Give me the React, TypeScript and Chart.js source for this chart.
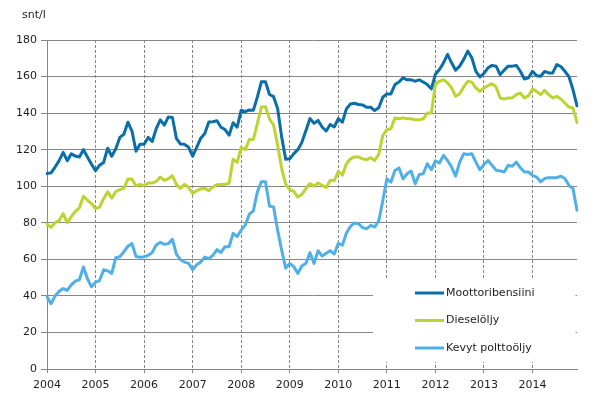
import React, { useEffect, useRef } from "react";
import { Chart, registerables } from "chart.js";

Chart.register(...registerables);

const years = ["2004", "2005", "2006", "2007", "2008", "2009", "2010", "2011", "2012", "2013", "2014"];
const months = ["01", "02", "03", "04", "05", "06", "07", "08", "09", "10", "11", "12"];
const seriesNames = ["Moottoribensiini", "Dieselöljy", "Kevyt polttoöljy"];
const yTicks = [0, 20, 40, 60, 80, 100, 120, 140, 160, 180];
const unitLabel = "snt/l";

const moottoribensiini = [
  107, 107.3, 110.5, 114, 118.5, 114, 117.7, 116.5, 116, 120, 116, 112,
  108.5, 111.5, 113, 120.8, 116.4, 120.5, 126.7, 128.4, 135, 130.2, 119.2, 123,
  122.9, 126.7, 124.5, 131.5, 136.3, 133.4, 137.9, 137.6, 126, 123.1, 122.9, 121.3,
  116.4, 121.3, 126.3, 128.8, 135.2, 135.3, 135.8, 132.3, 131, 127.9, 134.7, 132.3,
  141.6, 140.8, 141.7, 141.5, 148.9, 157.2, 157.2, 150.2, 149, 142.5, 127, 114.8,
  115, 117.8, 120, 124, 130.5, 137, 134.5, 136, 132.4, 130.2, 133.8, 132.4,
  137, 135, 142.3, 145, 145.4, 144.7, 144.5, 143.2, 143.2, 141.4, 142.9, 148.7,
  150.5, 150.5, 155.6, 157, 159.3, 158.2, 158.2, 157.5, 158.2, 157, 155.6, 153.3,
  161.3, 163.9, 167.5, 172.1, 167.5, 163.5, 165.7, 169.4, 173.9, 170.3, 162.9, 159.8,
  161.7, 164.8, 166.1, 165.7, 161.1, 163.5, 165.7, 165.7, 166.1, 162.9, 158.7, 159.3,
  162.9, 160.5, 160.2, 162.8, 162, 162, 166.5, 165.5, 162.9, 160, 152.8, 144,
];

const dieseloljy = [
  79.3, 77.5, 80, 81.3, 85, 80, 83.4, 86.2, 88.2, 94.5, 92.3, 90.5,
  87.8, 88.6, 93.2, 96.9, 93.5, 97, 98.2, 98.8, 104, 103.8, 100.2, 101,
  100.4, 101.7, 101.7, 102.6, 105, 103.2, 104.1, 105.7, 100.9, 98.8, 101, 99.3,
  96, 97.6, 98.6, 98.8, 97.6, 99.6, 100.8, 101, 101, 101.6, 114.8, 113,
  121.3, 120, 125.6, 125.6, 134.3, 143.4, 143.5, 136.7, 133.5, 122.5, 109.7, 101,
  98.2, 97.2, 94.1, 95.6, 98.7, 101.5, 100, 101.8, 100.5, 99.3, 103.3, 103,
  108.2, 106, 112.3, 115, 116, 116, 115, 114.5, 115.6, 114.1, 117.4, 127.8,
  130.9, 131.4, 137.4, 136.9, 137.4, 136.9, 136.9, 136.3, 136.3, 136.9, 140, 140,
  155.7, 157.4, 158.3, 156.5, 153.8, 149.2, 150.6, 154.3, 157.4, 156.9, 153.8, 151.9,
  153.8, 155, 156.1, 154.3, 148.3, 147.7, 148.3, 148.3, 150.1, 151, 148.3, 149.5,
  153.2, 151.9, 150.1, 152.5, 150.1, 148.3, 149.2, 147.7, 145.5, 143.3, 142.8, 134.9,
];

const kevytPolttoolj = [
  39.5, 35.7, 40, 42.5, 44, 43, 46, 48.1, 48.8, 55.8, 49.4, 45,
  47.5, 48.4, 54.3, 53.7, 52.3, 60.9, 61.4, 64.1, 67.2, 68.6, 61.6, 61.2,
  61.4, 62.2, 63.7, 67.9, 69.3, 68.2, 68.6, 71, 62.7, 59.8, 58.5, 57.8,
  54.3, 57, 58.5, 61.2, 60.4, 62.2, 65.3, 63.8, 66.9, 66.9, 74.2, 72.5,
  76, 78.7, 84.7, 86.5, 97, 102.5, 102.5, 89, 88.7, 76, 65, 55.2,
  57.7, 56, 52.3, 56.4, 57.8, 63.6, 57.8, 64.7, 61.8, 63.3, 64.7, 62.9,
  68.8, 67.7, 74.4, 78, 79.9, 79.5, 77.3, 76.8, 78.6, 77.7, 81, 92.2,
  104, 102.2, 108.6, 110, 104, 106.8, 108.3, 101.3, 106.4, 106.8, 112.3, 109,
  113.9, 112.7, 116.9, 114.1, 110.5, 105.5, 113.2, 117.8, 117.4, 117.8, 113.2, 109,
  111.9, 114.1, 111.4, 108.7, 108.4, 107.8, 111.4, 110.9, 113.2, 110.1, 107.8, 107.8,
  106, 105, 102.4, 104.2, 104.7, 104.7, 104.7, 105.5, 104.2, 100.5, 98.7, 86.9,
];

const colors = ["#0a6ea8", "#bcd432", "#4fafe6"];
const gridColor = "#868686";
const textColor = "#1e1e1e";
const FONT = "'DejaVu Sans', Verdana, sans-serif";

const categories: string[] = [];
years.forEach((y) => months.forEach((m) => categories.push(`${y}-${m}`)));

const overlayPlugin = {
  id: "overlay",
  afterDatasetsDraw(chart: any) {
    const { ctx, chartArea } = chart;
    const ds = chart.data.datasets;
    ctx.save();
    // legend box (white) inside plot area
    const bx = chartArea.left + 326;
    const by = chartArea.top + 239;
    const bw = chartArea.right - 1.5 - bx;
    const bh = 83;
    ctx.fillStyle = "#ffffff";
    ctx.fillRect(bx, by, bw, bh);
    const lx = chartArea.left + 368;
    const rowY = [chartArea.top + 253, chartArea.top + 280.5, chartArea.top + 308];
    ctx.font = `11px ${FONT}`;
    ctx.textBaseline = "middle";
    ctx.textAlign = "left";
    ds.forEach((d: any, i: number) => {
      ctx.strokeStyle = d.borderColor;
      ctx.lineWidth = 3;
      ctx.beginPath();
      ctx.moveTo(lx, rowY[i]);
      ctx.lineTo(lx + 29, rowY[i]);
      ctx.stroke();
      ctx.fillStyle = textColor;
      ctx.fillText(d.label, lx + 31, rowY[i]);
    });
    // unit label
    ctx.fillStyle = textColor;
    ctx.font = `11px ${FONT}`;
    ctx.textAlign = "left";
    ctx.fillText(unitLabel, chartArea.left - 25, 15);
    ctx.restore();
  },
};

export default function App() {
  const ref = useRef<HTMLCanvasElement>(null);
  useEffect(() => {
    if (!ref.current) return;
    Chart.defaults.font.family = FONT;
    Chart.defaults.font.size = 11;
    Chart.defaults.color = textColor;
    const seriesData = [moottoribensiini, dieseloljy, kevytPolttoolj];
    const chart = new Chart(ref.current, {
      type: "line",
      data: {
        labels: categories,
        datasets: seriesNames.map((name, i) => ({
          label: name,
          data: seriesData[i],
          borderColor: colors[i],
          backgroundColor: colors[i],
          borderWidth: 3,
          pointRadius: 0,
          tension: 0,
          borderJoinStyle: "round" as const,
          borderCapStyle: "round" as const,
        })),
      },
      options: {
        responsive: false,
        animation: false,
        devicePixelRatio: 1,
        layout: { padding: { top: 40, right: 28, bottom: 0, left: 0 } },
        plugins: { legend: { display: false }, tooltip: { enabled: false }, title: { display: false } },
        scales: {
          x: {
            type: "category",
            offset: false,
            afterFit: (s: any) => {
              s.height = 47;
            },
            grid: {
              display: true,
              drawOnChartArea: true,
              drawTicks: true,
              tickLength: 4,
              lineWidth: 1,
              color: (c: any) => (c.index % 12 === 0 && c.index > 0 ? gridColor : "rgba(0,0,0,0)"),
              tickColor: (c: any) => (c.index % 12 === 0 ? gridColor : "rgba(0,0,0,0)"),
            },
            border: { display: true, color: gridColor, width: 1, dash: [3, 2] },
            ticks: {
              autoSkip: false,
              maxRotation: 0,
              minRotation: 0,
              padding: 6,
              color: textColor,
              font: { size: 11, family: FONT },
              callback: (_v: any, idx: number) => (idx % 12 === 0 ? years[idx / 12] : ""),
            },
          },
          y: {
            min: yTicks[0],
            max: yTicks[yTicks.length - 1],
            afterFit: (s: any) => {
              s.width = 47;
            },
            afterBuildTicks: (s: any) => {
              s.ticks = yTicks.map((v) => ({ value: v }));
            },
            grid: { color: gridColor, lineWidth: 1, drawTicks: true, tickLength: 6 },
            border: { display: true, color: gridColor, width: 1 },
            ticks: { padding: 4, color: textColor, font: { size: 11, family: FONT } },
          },
        },
      },
      plugins: [overlayPlugin],
    });
    return () => chart.destroy();
  }, []);
  return (
    <div style={{ position: "fixed", left: 0, top: 0, width: 605, height: 416, background: "#fff" }}>
      <canvas ref={ref} width={605} height={416} style={{ display: "block", width: 605, height: 416 }} />
    </div>
  );
}
